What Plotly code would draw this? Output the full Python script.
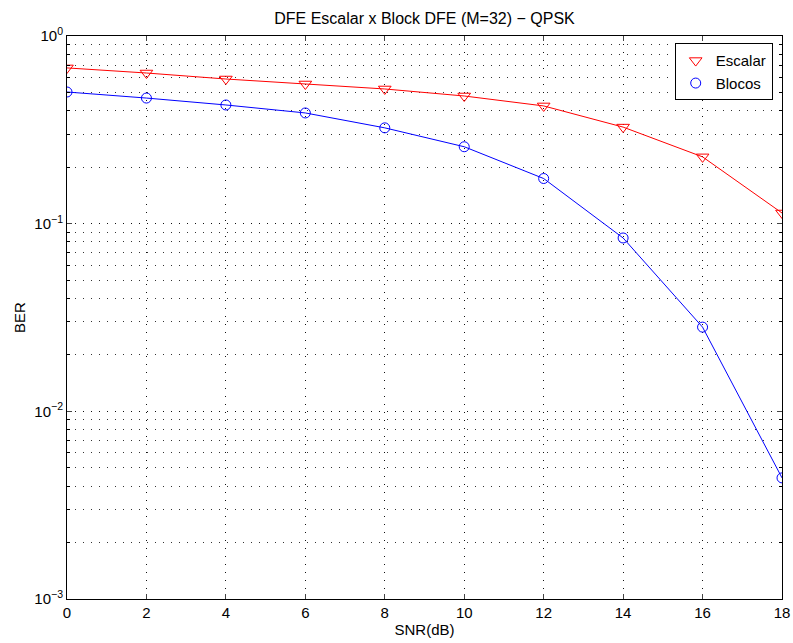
import plotly.graph_objects as go

snr = [0, 2, 4, 6, 8, 10, 12, 14, 16, 18]
ber_escalar = [0.676, 0.635, 0.590, 0.555, 0.522, 0.479, 0.424, 0.327, 0.227, 0.114]
ber_blocos = [0.503, 0.467, 0.429, 0.389, 0.324, 0.257, 0.174, 0.0839, 0.0281, 0.00442]
ytick_vals = [1e-3, 1e-2, 1e-1, 1]
ytick_text = ["10<sup>−3</sup>", "10<sup>−2</sup>", "10<sup>−1</sup>", "10<sup>0</sup>"]
yminor_vals = [m * 10.0 ** e for e in (-3, -2, -1) for m in range(2, 10)]
xtick_vals = [0, 2, 4, 6, 8, 10, 12, 14, 16, 18]

font = "Liberation Sans, Arial, sans-serif"
dots = "1px,7px"

W, H = 793, 643

fig = go.Figure()
fig.add_trace(go.Scatter(
    x=snr, y=ber_escalar, name="Escalar", mode="lines+markers", showlegend=False,
    line=dict(color="#ff0000", width=1),
    marker=dict(symbol="triangle-down-open", size=11, color="#ff0000", line=dict(width=1)),
))
fig.add_trace(go.Scatter(
    x=snr, y=ber_blocos, name="Blocos", mode="lines+markers", showlegend=False,
    line=dict(color="#0000ff", width=1),
    marker=dict(symbol="circle-open", size=10, color="#0000ff", line=dict(width=1)),
))
# legend entries (markers only, as in the reference)
fig.add_trace(go.Scatter(
    x=[None], y=[None], name="Escalar", mode="markers",
    marker=dict(symbol="triangle-down-open", size=11, color="#ff0000", line=dict(width=1)),
))
fig.add_trace(go.Scatter(
    x=[None], y=[None], name="Blocos", mode="markers",
    marker=dict(symbol="circle-open", size=10, color="#0000ff", line=dict(width=1)),
))

fig.update_layout(
    width=W, height=H,
    margin=dict(l=67, r=11, t=36, b=44, autoexpand=False),
    paper_bgcolor="white", plot_bgcolor="white",
    font=dict(family=font, size=15, color="black"),
    title=dict(text="DFE Escalar x Block DFE (M=32) − QPSK", x=0.5, xanchor="center",
               xref="paper", y=1 - 18 / H, yanchor="middle", font=dict(size=16),
               automargin=False),
    legend=dict(x=0.987, y=0.987, xanchor="right", yanchor="top",
                bordercolor="black", borderwidth=1, bgcolor="white",
                font=dict(size=15), itemwidth=30, tracegroupgap=0),
    showlegend=True,
    hovermode=False,
)

fig.update_xaxes(
    range=[0, 18], tickvals=xtick_vals, ticks="inside", ticklen=5, automargin=False,
    showline=True, linecolor="black", linewidth=1, mirror="allticks",
    showgrid=True, gridcolor="#111", griddash=dots, gridwidth=1,
    zeroline=False, tickfont=dict(size=15),
    title=dict(text="SNR(dB)", font=dict(size=15), standoff=4),
)
fig.update_yaxes(
    type="log", range=[-3, 0], tickvals=ytick_vals, ticktext=ytick_text,
    ticks="inside", ticklen=5, automargin=False,
    showline=True, linecolor="black", linewidth=1, mirror="allticks",
    showgrid=True, gridcolor="#111", griddash=dots, gridwidth=1,
    minor=dict(tickvals=yminor_vals, ticks="inside", ticklen=3, showgrid=True,
               gridcolor="#333", griddash=dots, gridwidth=1, tickcolor="black"),
    zeroline=False, tickfont=dict(size=15),
    title=dict(text="BER", font=dict(size=15), standoff=5),
)

fig.write_html(
    "out.html",
    config={"displayModeBar": False, "staticPlot": True},
    post_script="document.body.style.margin='0';document.body.style.overflow='hidden';",
)
